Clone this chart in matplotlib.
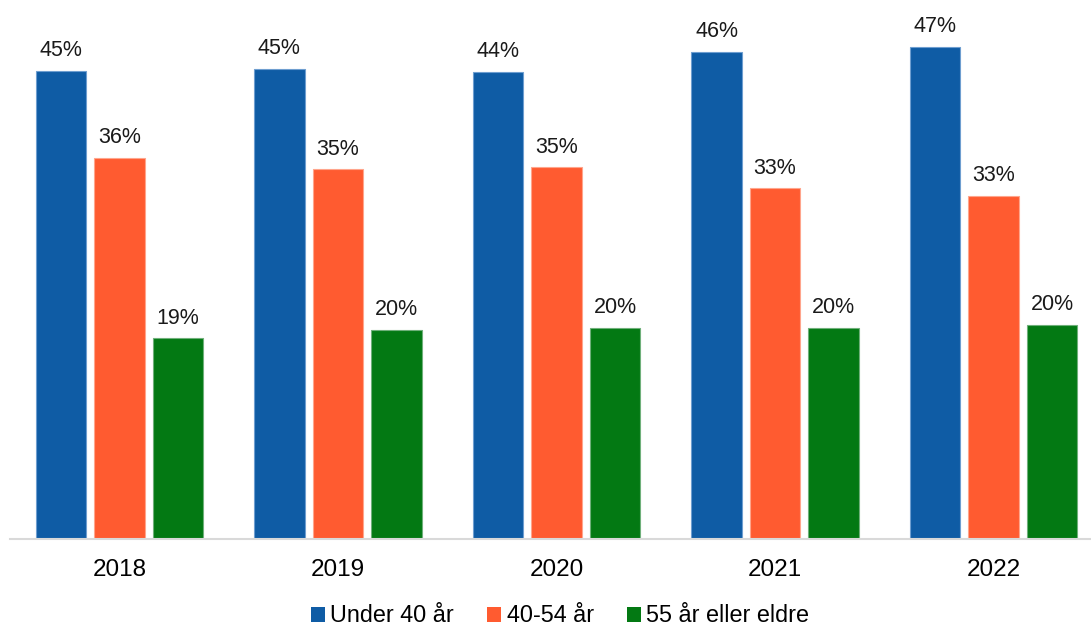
import matplotlib
matplotlib.use("Agg")
import matplotlib.pyplot as plt
from matplotlib.patches import Patch
import numpy as np

plt.rcParams['font.family'] = ['Liberation Sans', 'DejaVu Sans']

years = ["2018", "2019", "2020", "2021", "2022"]
series_names = ["Under 40 år", "40-54 år", "55 år eller eldre"]
under_40 = [44.6, 44.8, 44.5, 46.4, 46.9]
age_40_54 = [36.3, 35.2, 35.4, 33.4, 32.7]
age_55_plus = [19.1, 19.9, 20.1, 20.1, 20.4]
colors = ["#0F5CA5", "#FF5B30", "#037913"]
edge_colors = ["#6E9ED0", "#FFA58C", "#6FB07A"]

W, H = 1091, 628
fig = plt.figure(figsize=(W / 100, H / 100), dpi=100)
left_px, right_px = 10, 1091
base_px = 538.5
px_per_unit = 10.485
ymax = 50
ax = fig.add_axes([left_px / W, (H - base_px) / H,
                   (right_px - left_px) / W, ymax * px_per_unit / H])

step_px = 218.6
x = np.arange(len(years))
bar_w = 50.5 / step_px
offset = 58.5 / step_px

for i, (vals, c, ec) in enumerate(zip([under_40, age_40_54, age_55_plus], colors, edge_colors)):
    pos = x + (i - 1) * offset
    bars = ax.bar(pos, vals, width=bar_w, color=c, edgecolor=ec, linewidth=0.8, zorder=2)
    for b, v in zip(bars, vals):
        ax.annotate(f"{v:.0f}%", (b.get_x() + b.get_width() / 2, v),
                    xytext=(0, 7), textcoords="offset points",
                    ha="center", va="bottom", fontsize=15.5, color="#1a1a1a")

ax.set_xlim(-0.5, -0.5 + (right_px - left_px) / step_px)
ax.set_ylim(0, ymax)
ax.set_xticks(x)
ax.set_xticklabels(years, fontsize=17.5)
ax.tick_params(axis="x", length=0, pad=15, colors="#000000")
ax.set_yticks([])
for s in ["top", "right", "left"]:
    ax.spines[s].set_visible(False)
ax.spines["bottom"].set_color("#D9D9D9")
ax.spines["bottom"].set_linewidth(1.5)
ax.spines["bottom"].set_zorder(3)

handles = [Patch(facecolor=c, edgecolor="none") for c in colors]
fig.legend(handles, series_names, loc="center",
           bbox_to_anchor=(560 / W, 1 - 616 / H), ncol=3, frameon=False,
           fontsize=16.8, handlelength=0.6, handleheight=0.6,
           handletextpad=0.25, columnspacing=1.4, borderpad=0.2)

fig.savefig("out.png", dpi=100)
